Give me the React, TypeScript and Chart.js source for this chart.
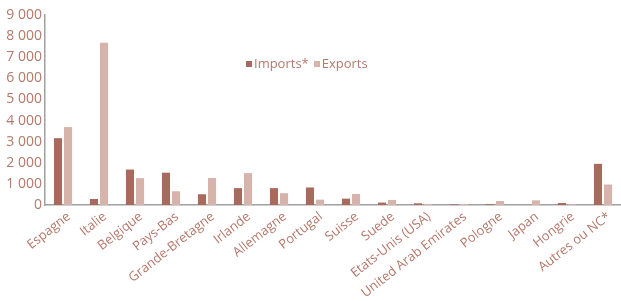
import React, { useEffect, useRef } from "react";
import { Chart, registerables } from "chart.js";

Chart.register(...registerables);

const categories = [
  "Espagne", "Italie", "Belgique", "Pays-Bas", "Grande-Bretagne", "Irlande",
  "Allemagne", "Portugal", "Suisse", "Suede", "Etats-Unis (USA)",
  "United Arab Emirates", "Pologne", "Japan", "Hongrie", "Autres ou NC*",
];
const imports = [3165, 285, 1680, 1530, 510, 800, 800, 830, 300, 115, 80, 30, 40, 0, 95, 1950];
const exportsData = [3690, 7690, 1270, 650, 1280, 1510, 560, 255, 520, 240, 50, 50, 190, 220, 40, 970];
const yTicks = [0, 1000, 2000, 3000, 4000, 5000, 6000, 7000, 8000, 9000];

const DARK = "#a86a5c";
const LIGHT = "#d6b3ab";
const TEXT = "#b5786b";
const FONT = "'Open Sans', sans-serif";

export default function App() {
  const ref = useRef<HTMLCanvasElement | null>(null);
  useEffect(() => {
    if (!ref.current) return;
    const chart = new Chart(ref.current, {
      type: "bar",
      data: {
        labels: categories,
        datasets: [
          { label: "Imports*", data: imports, backgroundColor: DARK, barPercentage: 0.8, categoryPercentage: 0.56 },
          { label: "Exports", data: exportsData, backgroundColor: LIGHT, barPercentage: 0.8, categoryPercentage: 0.56 },
        ],
      },
      options: {
        animation: false,
        responsive: false,
        maintainAspectRatio: false,
        layout: { padding: { top: 15, right: 0, left: 0, bottom: 0 } },
        plugins: { legend: { display: false }, tooltip: { enabled: false } },
        scales: {
          x: {
            grid: { display: false, drawTicks: false },
            border: { display: true, color: "#a0a0a0", width: 1.5 },
            ticks: {
              color: TEXT,
              font: { family: FONT, size: 13 },
              minRotation: 38,
              maxRotation: 38,
              autoSkip: false,
              padding: 4,
              labelOffset: 6,
            },
            afterFit: (s: any) => { s.height = 96; },
          },
          y: {
            min: 0,
            max: 9000,
            afterBuildTicks: (s: any) => { s.ticks = yTicks.map((v) => ({ value: v })); },
            grid: { display: false, drawTicks: false },
            border: { display: true, color: "#a0a0a0", width: 1.5 },
            ticks: {
              color: TEXT,
              font: { family: FONT, size: 14 },
              padding: 3,
              callback: (v: any) => Number(v).toLocaleString("fr-FR").replace(/\u202f|\u00a0/g, " "),
            },
            afterFit: (s: any) => { s.width = 45; },
          },
        },
      },
    });
    return () => chart.destroy();
  }, []);

  const sq = (c: string) => (
    <span style={{ display: "inline-block", width: 6, height: 6, background: c, marginRight: 2, verticalAlign: "middle", position: "relative", top: -1 }} />
  );

  return (
    <div style={{ position: "fixed", left: 0, top: 0, width: 621, height: 301, background: "#fff" }}>
      <canvas ref={ref} width={621} height={301} style={{ display: "block" }} />
      <div style={{ position: "absolute", left: 246, top: 54, fontFamily: FONT, fontSize: 13, color: TEXT, whiteSpace: "nowrap" }}>
        {sq(DARK)}Imports*<span style={{ display: "inline-block", width: 5 }} />{sq(LIGHT)}Exports
      </div>
    </div>
  );
}
